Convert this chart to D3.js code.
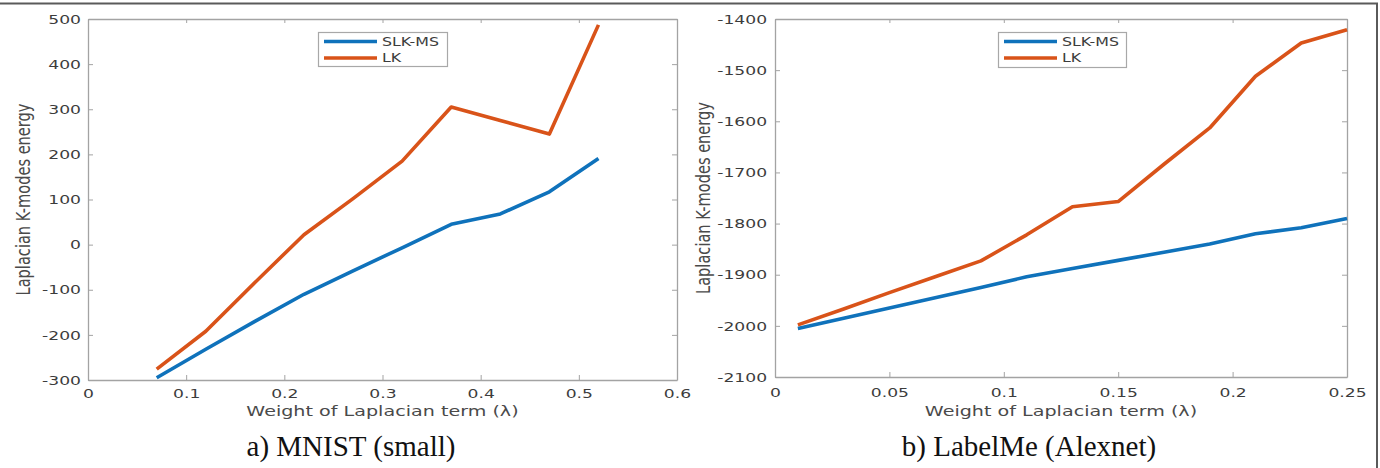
<!DOCTYPE html>
<html>
<head>
<meta charset="utf-8">
<script src="https://cdn.jsdelivr.net/npm/d3@7"></script>
<style>
  body { margin: 0; background: #fff; }
  svg { display: block; }
</style>
</head>
<body>
<div id="chart"></div>
<script>
// ---- data: a) MNIST (small)
const mnistLambda = [0.07, 0.12, 0.17, 0.22, 0.27, 0.32, 0.37, 0.42, 0.47, 0.52];
const mnistSlkMs  = [-295, -232, -170, -110, -58, -7, 45, 68, 117, 191];
const mnistLk     = [-276, -192, -84, 22, 102, 185, 305, 275, 245, 487];
const mnistXTicks = [0, 0.1, 0.2, 0.3, 0.4, 0.5, 0.6];
const mnistYTicks = [-300, -200, -100, 0, 100, 200, 300, 400, 500];

// ---- data: b) LabelMe (Alexnet)
const labelmeLambda = [0.01, 0.03, 0.05, 0.07, 0.09, 0.11, 0.13, 0.15, 0.17, 0.19, 0.21, 0.23, 0.25];
const labelmeSlkMs  = [-2005, -1985, -1965, -1945, -1925, -1904, -1888, -1872, -1856, -1840, -1820, -1808, -1790];
const labelmeLk     = [-1998, -1967, -1935, -1904, -1873, -1822, -1767, -1757, -1684, -1613, -1512, -1447, -1421];
const labelmeXTicks = [0, 0.05, 0.1, 0.15, 0.2, 0.25];
const labelmeYTicks = [-2100, -2000, -1900, -1800, -1700, -1600, -1500, -1400];

const seriesNames = ["SLK-MS", "LK"];
const seriesColors = ["#0f72bb", "#d95319"];

const width = 1380, height = 468;
const stretch = 1.32;          // the figure is stretched horizontally
const axisColor = "#a3a3a3";
const textColor = "#3c3c3c";
const fontFamily = "'DejaVu Sans', Verdana, sans-serif";

const svg = d3.select("#chart")
    .append("svg")
    .attr("width", width)
    .attr("height", height)
    .attr("viewBox", `0 0 ${width} ${height}`)
    .attr("xmlns", "http://www.w3.org/2000/svg");

// outer frame (top and right edges visible)
svg.append("path")
    .attr("d", `M0,3.5 H1377 V${height}`)
    .attr("fill", "none")
    .attr("stroke", "#5a5a5a")
    .attr("stroke-width", 2);

function styleAxis(sel) {
    sel.select(".domain").attr("stroke", axisColor).attr("stroke-width", 1.3);
    sel.selectAll(".tick line").attr("stroke", axisColor).attr("stroke-width", 1);
    sel.selectAll("text")
        .attr("fill", textColor)
        .style("font-family", fontFamily)
        .style("font-size", "13px")
        .attr("transform", `scale(${stretch},1)`);
}

function drawPanel(cfg) {
    const x = d3.scaleLinear().domain(cfg.xDomain).range([cfg.left, cfg.right]);
    const y = d3.scaleLinear().domain(cfg.yDomain).range([cfg.bottom, cfg.top]);
    const fmt = d => String(d);

    // 四边坐标轴（刻度朝内）
    svg.append("g")
        .attr("transform", `translate(0,${cfg.bottom})`)
        .call(d3.axisBottom(x).tickValues(cfg.xTicks).tickFormat(fmt)
            .tickSizeInner(-5).tickSizeOuter(0).tickPadding(cfg.xPad))
        .call(styleAxis);
    svg.append("g")
        .attr("transform", `translate(0,${cfg.top})`)
        .call(d3.axisTop(x).tickValues(cfg.xTicks).tickFormat("")
            .tickSizeInner(-4).tickSizeOuter(0))
        .call(styleAxis);
    svg.append("g")
        .attr("transform", `translate(${cfg.left},0)`)
        .call(d3.axisLeft(y).tickValues(cfg.yTicks).tickFormat(fmt)
            .tickSizeInner(-5).tickSizeOuter(0).tickPadding(cfg.yPad))
        .call(styleAxis);
    svg.append("g")
        .attr("transform", `translate(${cfg.right},0)`)
        .call(d3.axisRight(y).tickValues(cfg.yTicks).tickFormat("")
            .tickSizeInner(-5).tickSizeOuter(0))
        .call(styleAxis);

    // lines
    cfg.series.forEach((vals, i) => {
        const line = d3.line()
            .x((d, j) => x(cfg.lambda[j]))
            .y(d => y(d));
        svg.append("path")
            .datum(vals)
            .attr("d", line)
            .attr("fill", "none")
            .attr("stroke", seriesColors[i])
            .attr("stroke-width", 3.6)
            .attr("stroke-linejoin", "round")
            .attr("stroke-linecap", "butt");
    });

    // axis titles
    svg.append("text")
        .attr("transform", `translate(${(cfg.left + cfg.right) / 2},416) scale(${stretch},1)`)
        .attr("text-anchor", "middle")
        .attr("fill", "#4a4a4a")
        .style("font-family", fontFamily)
        .style("font-size", "14.5px")
        .text("Weight of Laplacian term (\u03bb)");

    svg.append("text")
        .attr("transform", `translate(${cfg.yTitleX},${(cfg.top + cfg.bottom) / 2}) scale(${stretch},1) rotate(-90)`)
        .attr("text-anchor", "middle")
        .attr("fill", "#4a4a4a")
        .style("font-family", fontFamily)
        .style("font-size", "14.6px")
        .text("Laplacian K-modes energy");

    // legend
    const lg = cfg.legend;
    const legend = svg.append("g").attr("transform", `translate(${lg.x},${lg.y})`);
    legend.append("rect")
        .attr("x", 0.5).attr("y", 0.5)
        .attr("width", lg.w).attr("height", lg.h)
        .attr("fill", "#fff")
        .attr("stroke", "#a8a8a8")
        .attr("stroke-width", 1.2);
    seriesNames.forEach((name, i) => {
        const ly = 9.5 + i * 16.5;
        legend.append("line")
            .attr("x1", 6).attr("x2", 59)
            .attr("y1", ly).attr("y2", ly)
            .attr("stroke", seriesColors[i])
            .attr("stroke-width", 3.6);
        legend.append("text")
            .attr("transform", `translate(64,${ly + 4.3}) scale(${stretch},1)`)
            .attr("fill", textColor)
            .style("font-family", fontFamily)
            .style("font-size", "12px")
            .text(name);
    });

    // caption
    svg.append("text")
        .attr("x", cfg.captionX)
        .attr("y", 456)
        .attr("text-anchor", "middle")
        .attr("fill", "#111")
        .style("font-family", "'Liberation Serif', 'Times New Roman', serif")
        .style("font-size", "29px")
        .text(cfg.caption);
}

drawPanel({
    left: 88, right: 677, top: 19, bottom: 380,
    xDomain: [0, 0.6], yDomain: [-300, 500],
    xTicks: mnistXTicks, yTicks: mnistYTicks,
    xPad: 9, yPad: 5.3,
    lambda: mnistLambda,
    series: [mnistSlkMs, mnistLk],
    yTitleX: 30,
    legend: { x: 318, y: 32, w: 129, h: 34 },
    caption: "a) MNIST (small)",
    captionX: 351
});

drawPanel({
    left: 775, right: 1347, top: 19, bottom: 377,
    xDomain: [0, 0.25], yDomain: [-2100, -1400],
    xTicks: labelmeXTicks, yTicks: labelmeYTicks,
    xPad: 11, yPad: 6,
    lambda: labelmeLambda,
    series: [labelmeSlkMs, labelmeLk],
    yTitleX: 710,
    legend: { x: 998, y: 32, w: 128, h: 35 },
    caption: "b) LabelMe (Alexnet)",
    captionX: 1029
});
</script>
</body>
</html>
